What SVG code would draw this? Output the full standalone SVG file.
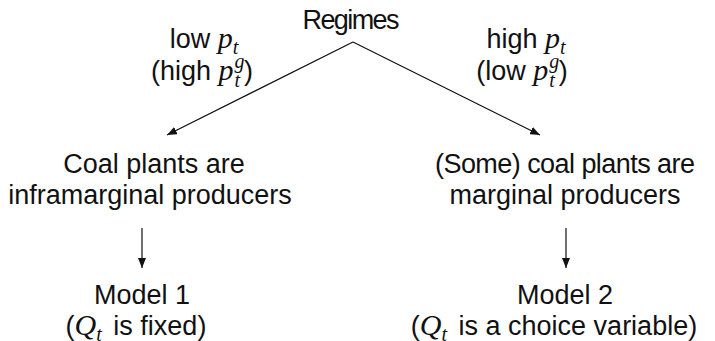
<svg xmlns="http://www.w3.org/2000/svg" width="715" height="341" viewBox="0 0 715 341">
<style>
text{font-family:"Liberation Sans",Arial,sans-serif;font-size:27px;fill:#111;text-anchor:middle}
.m{font-family:"Liberation Serif","Times New Roman",serif;font-style:italic;font-size:30px}
.s{font-family:"Liberation Serif","Times New Roman",serif;font-style:italic;font-size:20px}
.c{stroke:#111;stroke-width:1.2;fill:none}
</style>
<defs>
<marker id="ah" viewBox="0 0 10 8" refX="10" refY="4" markerWidth="10" markerHeight="8" markerUnits="userSpaceOnUse" orient="auto">
<path d="M0,0 L10,4 L0,8 Z" fill="#111"/>
</marker>
</defs>
<g id="regimes"><text x="351" y="29" textLength="97">Regimes</text></g>
<g id="label-left">
<text x="204" y="48">low <tspan class="m">p</tspan><tspan class="s" dy="6">t</tspan></text>
<text x="202" y="80">(high <tspan class="m">p</tspan><tspan class="s" dx="1" dy="-12">g</tspan><tspan class="s" dx="-10" dy="19">t</tspan><tspan dx="4" dy="-7">)</tspan></text>
</g>
<g id="label-right">
<text x="526" y="48">high <tspan class="m">p</tspan><tspan class="s" dy="6">t</tspan></text>
<text x="522" y="80">(low <tspan class="m">p</tspan><tspan class="s" dx="1" dy="-12">g</tspan><tspan class="s" dx="-10" dy="19">t</tspan><tspan dx="4" dy="-7">)</tspan></text>
</g>
<g id="coal-infra">
<text x="154" y="173">Coal plants are</text>
<text x="150" y="204">inframarginal producers</text>
</g>
<g id="coal-marginal">
<text x="565" y="173" textLength="260">(Some) coal plants are</text>
<text x="565" y="204">marginal producers</text>
</g>
<g id="model1">
<text x="142" y="304">Model 1</text>
<text x="136" y="335">(<tspan class="m">Q</tspan><tspan class="s" dy="6">t</tspan><tspan dx="4" dy="-6"> is fixed)</tspan></text>
</g>
<g id="model2">
<text x="565" y="304">Model 2</text>
<text x="554" y="335">(<tspan class="m">Q</tspan><tspan class="s" dy="6">t</tspan><tspan dx="4" dy="-6"> is a choice variable)</tspan></text>
</g>
<g id="connectors">
<line class="c" x1="353" y1="42" x2="167" y2="135" marker-end="url(#ah)"/>
<line class="c" x1="353" y1="42" x2="540" y2="135" marker-end="url(#ah)"/>
<line class="c" x1="142" y1="228" x2="142" y2="268" marker-end="url(#ah)"/>
<line class="c" x1="566" y1="228" x2="566" y2="268" marker-end="url(#ah)"/>
</g>
</svg>
